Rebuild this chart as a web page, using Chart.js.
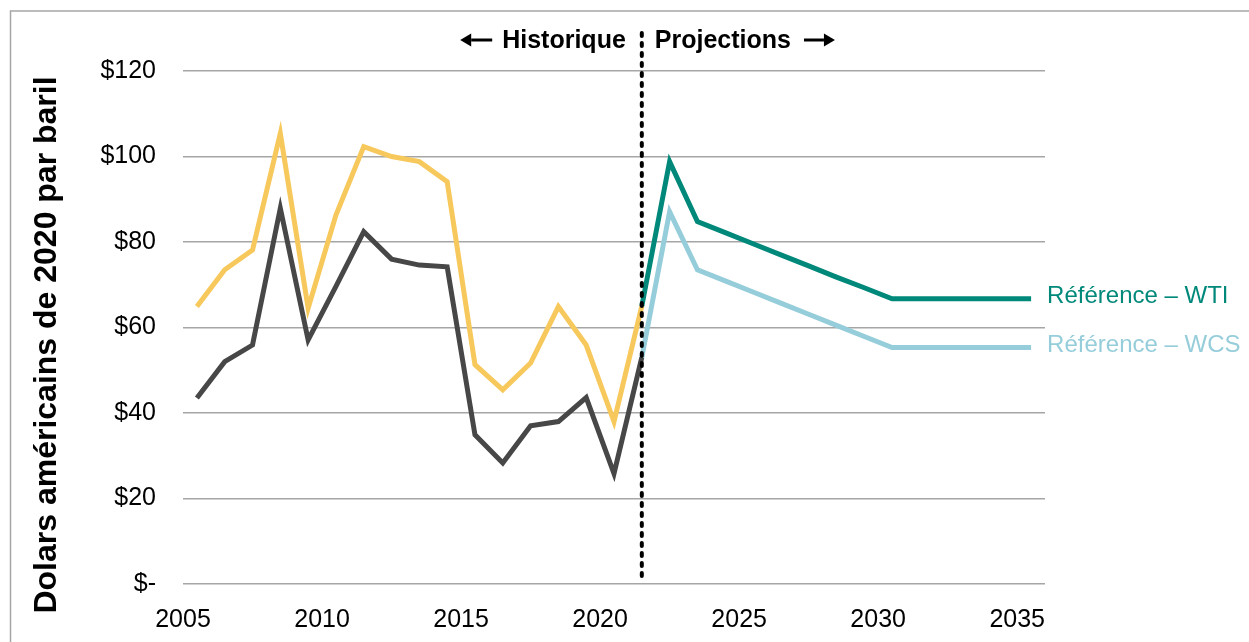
<!DOCTYPE html>
<html>
<head>
<meta charset="utf-8">
<title>Prix du pétrole</title>
<script src="https://cdn.jsdelivr.net/npm/chart.js@4.4.1/dist/chart.umd.min.js"></script>
<style>
html,body{margin:0;padding:0;background:#fff;}
#wrap{width:1249px;height:642px;}
</style>
</head>
<body>
<div id="wrap"><canvas id="oilChart" width="1249" height="642"></canvas></div>
<script>
const years=[2005,2006,2007,2008,2009,2010,2011,2012,2013,2014,2015,2016,2017,2018,2019,2020,
    2021,2022,2023,2024,2025,2026,2027,2028,2029,2030,2031,2032,2033,2034,2035];

// historique, 2005-2021
const wtiHistorique=[64.9,73.5,78.1,105.4,64.5,86.3,102.3,100.0,98.8,94.1,51.3,45.4,51.7,64.9,55.9,38.0,65.0,
    null,null,null,null,null,null,null,null,null,null,null,null,null,null];
const wcsHistorique=[43.5,52.0,55.9,87.9,57.1,69.6,82.4,76.0,74.6,74.2,34.9,28.3,37.0,38.0,43.6,25.8,53.0,
    null,null,null,null,null,null,null,null,null,null,null,null,null,null];

// projections, 2021-2035
const wtiReference=[null,null,null,null,null,null,null,null,null,null,null,null,null,null,null,null,
    65.0,98.8,84.8,82.2,79.6,77.0,74.4,71.8,69.3,66.7,66.7,66.7,66.7,66.7,66.7];
const wcsReference=[null,null,null,null,null,null,null,null,null,null,null,null,null,null,null,null,
    53.0,87.1,73.5,70.9,68.3,65.7,63.1,60.5,57.9,55.3,55.3,55.3,55.3,55.3,55.3];

const yTicks=[0,20,40,60,80,100,120];
const dividerYear=2021;

const FONT="'Liberation Sans', Arial, sans-serif";
Chart.defaults.font.family=FONT;
Chart.defaults.color='#000';

function drawArrow(ctx,fromX,toX,y){
    const dir=toX>fromX ? 1 : -1;
    const headLen=11;
    ctx.beginPath();
    ctx.lineWidth=3;
    ctx.moveTo(fromX,y);
    ctx.lineTo(toX-dir*headLen,y);
    ctx.stroke();
    ctx.beginPath();
    ctx.moveTo(toX,y);
    ctx.lineTo(toX-dir*headLen,y-6.5);
    ctx.lineTo(toX-dir*headLen,y+6.5);
    ctx.closePath();
    ctx.fill();
}

const decorPlugin={
    id:'decor',
    beforeDraw(chart){
        const ctx=chart.ctx;
        ctx.save();
        ctx.fillStyle='#fff';
        ctx.fillRect(0,0,chart.width,chart.height);
        // cadre haut + gauche
        ctx.strokeStyle='#a6a6a6';
        ctx.lineWidth=1.5;
        ctx.beginPath();
        ctx.moveTo(10.5,chart.height);
        ctx.lineTo(10.5,11);
        ctx.lineTo(chart.width,11);
        ctx.stroke();
        // titre de l'axe vertical
        ctx.translate(56,345);
        ctx.rotate(-Math.PI/2);
        ctx.font="bold 32px "+FONT;
        ctx.fillStyle='#000';
        ctx.textAlign='center';
        ctx.textBaseline='alphabetic';
        ctx.fillText('Dolars américains de 2020 par baril',0,0);
        ctx.restore();
    },
    afterDatasetsDraw(chart){
        const ctx=chart.ctx;
        const x=chart.scales.x.getPixelForValue(years.indexOf(dividerYear));
        ctx.save();
        ctx.strokeStyle='#000';
        ctx.lineWidth=4;
        ctx.lineCap='round';
        ctx.setLineDash([3,7]);
        ctx.beginPath();
        ctx.moveTo(x,33);
        ctx.lineTo(x,576);
        ctx.stroke();
        ctx.setLineDash([]);
        ctx.lineCap='butt';

        ctx.font="bold 25px "+FONT;
        ctx.fillStyle='#000';
        ctx.textBaseline='alphabetic';
        ctx.textAlign='right';
        ctx.fillText('Historique',x-16,48);
        const histStart=x-16-ctx.measureText('Historique').width;
        ctx.textAlign='left';
        ctx.fillText('Projections',x+13,48);
        const projEnd=x+13+ctx.measureText('Projections').width;
        drawArrow(ctx,histStart-10,histStart-42,40);
        drawArrow(ctx,projEnd+13,projEnd+44,40);

        // noms des séries au bout des lignes
        ctx.font="24px "+FONT;
        chart.data.datasets.forEach((ds,i)=>{
            if(!ds.endLabel) return;
            const meta=chart.getDatasetMeta(i);
            const pt=meta.data[meta.data.length-1];
            ctx.fillStyle=ds.borderColor;
            ctx.textAlign='left';
            ctx.textBaseline='middle';
            ctx.fillText(ds.endLabel,pt.x+16,pt.y-2);
        });
        ctx.restore();
    }
};

function lineSet(data,color,endLabel){
    return {
        data:data,
        borderColor:color,
        borderWidth:5,
        pointRadius:0,
        pointHoverRadius:0,
        tension:0,
        fill:false,
        spanGaps:false,
        borderJoinStyle:'miter',
        endLabel:endLabel
    };
}

const ctx=document.getElementById('oilChart').getContext('2d');
const oilChart=new Chart(ctx,{
    type:'line',
    data:{
        labels:years,
        datasets:[
            lineSet(wtiReference,'#00897a','Référence – WTI'),
            lineSet(wcsReference,'#96cdda','Référence – WCS'),
            lineSet(wtiHistorique,'#f7c85b',null),
            lineSet(wcsHistorique,'#474747',null)
        ]
    },
    options:{
        responsive:false,
        animation:false,
        devicePixelRatio:1,
        layout:{padding:{left:10,top:71,right:204,bottom:0}},
        plugins:{
            legend:{display:false},
            tooltip:{enabled:false}
        },
        scales:{
            x:{
                offset:true,
                grid:{display:false,drawTicks:false},
                border:{display:false},
                ticks:{
                    autoSkip:false,
                    maxRotation:0,
                    padding:21,
                    labelOffset:-13.9,
                    font:{size:25},
                    callback:function(value){
                        const yr=this.getLabelForValue(value);
                        return yr%5===0 ? String(yr) : null;
                    }
                },
                afterFit(scale){scale.height=58;}
            },
            y:{
                min:yTicks[0],
                max:yTicks[yTicks.length-1],
                afterBuildTicks(scale){scale.ticks=yTicks.map(v=>({value:v}));},
                grid:{color:'#a6a6a6',lineWidth:1.5,drawTicks:false},
                border:{display:false},
                ticks:{
                    padding:27,
                    font:{size:25},
                    callback:v=>v===0 ? '$-' : '$'+v
                },
                afterFit(scale){scale.width=173;}
            }
        }
    },
    plugins:[decorPlugin]
});
</script>
</body>
</html>
